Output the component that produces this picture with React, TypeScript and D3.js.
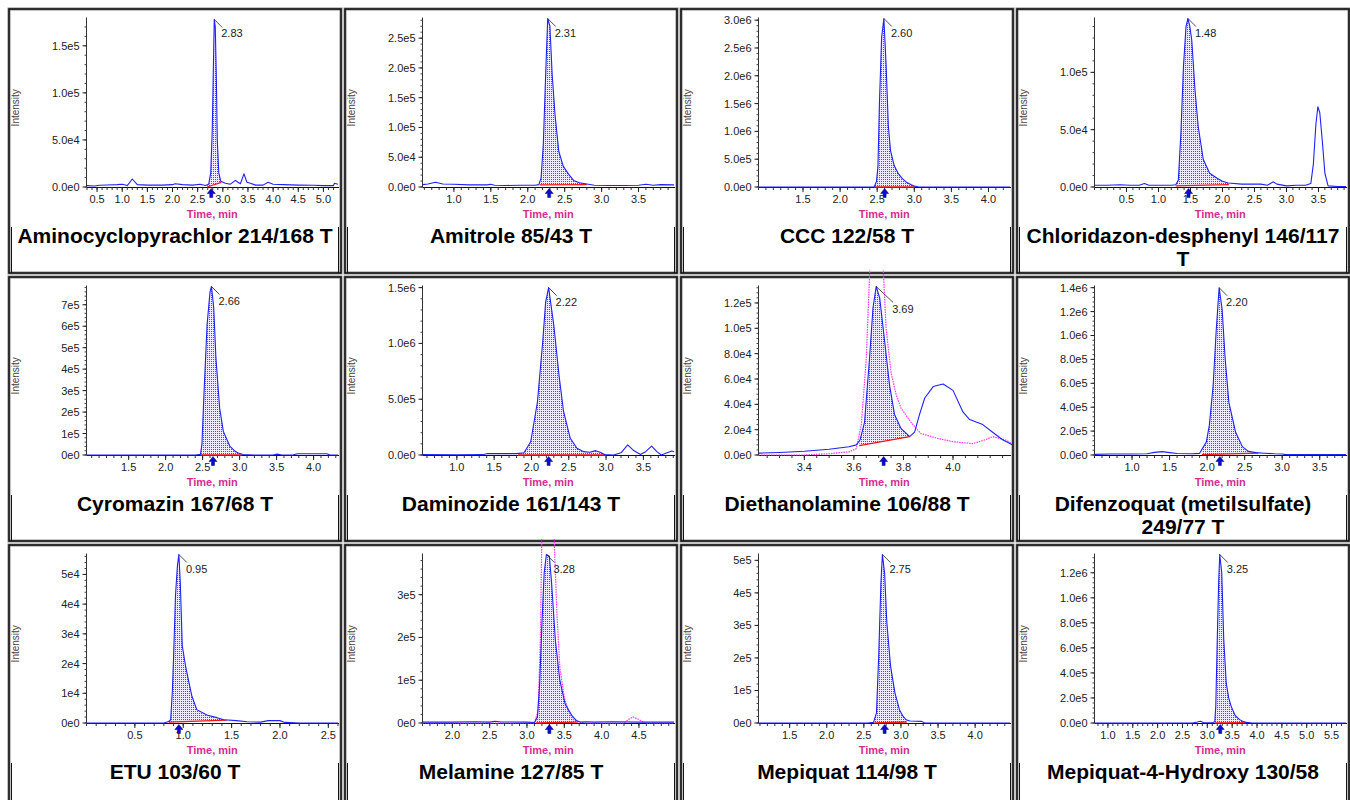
import React from "react";
import * as d3 from "d3";

type Pt = [number, number];

// ---------- DATA ----------
const titles: string[][] = [
  ["Aminocyclopyrachlor 214/168 T"],
  ["Amitrole 85/43 T"],
  ["CCC 122/58 T"],
  ["Chloridazon-desphenyl 146/117", "T"],
  ["Cyromazin 167/68 T"],
  ["Daminozide 161/143 T"],
  ["Diethanolamine 106/88 T"],
  ["Difenzoquat (metilsulfate)", "249/77 T"],
  ["ETU 103/60 T"],
  ["Melamine 127/85 T"],
  ["Mepiquat 114/98 T"],
  ["Mepiquat-4-Hydroxy 130/58"],
];

const rtLabels = ["2.83", "2.31", "2.60", "1.48", "2.66", "2.22", "3.69", "2.20", "0.95", "3.28", "2.75", "3.25"];
const arrowTimes = [2.77, 2.29, 2.6, 1.47, 2.64, 2.23, 3.72, 2.17, 0.955, 3.3, 2.78, 3.26];

const xDomains: Pt[] = [
  [0.29, 5.29], [0.575, 3.98], [0.9, 4.29], [0.0, 3.93],
  [0.93, 4.33], [0.54, 3.91], [3.215, 4.23], [0.5, 3.85],
  [0.0, 2.6], [1.6, 4.97], [1.08, 4.47], [0.73, 5.79],
];
const yMaxes = [1.79e5, 2.83e5, 3.03e6, 1.47e5, 7.85e5, 1.51e6, 1.33e5, 1.41e6, 5.67e4, 3.94e5, 5.18e5, 1.346e6];

const xTicks: number[][] = [
  [0.5, 1.0, 1.5, 2.0, 2.5, 3.0, 3.5, 4.0, 4.5, 5.0],
  [1.0, 1.5, 2.0, 2.5, 3.0, 3.5],
  [1.5, 2.0, 2.5, 3.0, 3.5, 4.0],
  [0.5, 1.0, 1.5, 2.0, 2.5, 3.0, 3.5],
  [1.5, 2.0, 2.5, 3.0, 3.5, 4.0],
  [1.0, 1.5, 2.0, 2.5, 3.0, 3.5],
  [3.4, 3.6, 3.8, 4.0],
  [1.0, 1.5, 2.0, 2.5, 3.0, 3.5],
  [0.5, 1.0, 1.5, 2.0, 2.5],
  [2.0, 2.5, 3.0, 3.5, 4.0, 4.5],
  [1.5, 2.0, 2.5, 3.0, 3.5, 4.0],
  [1.0, 1.5, 2.0, 2.5, 3.0, 3.5, 4.0, 4.5, 5.0, 5.5],
];
const xMinorSteps = [0.1, 0.1, 0.1, 0.1, 0.1, 0.1, 0.05, 0.1, 0.1, 0.1, 0.1, 0.1];

const yTicks: number[][] = [
  [0, 5e4, 1e5, 1.5e5],
  [0, 5e4, 1e5, 1.5e5, 2e5, 2.5e5],
  [0, 5e5, 1e6, 1.5e6, 2e6, 2.5e6, 3e6],
  [0, 5e4, 1e5],
  [0, 1e5, 2e5, 3e5, 4e5, 5e5, 6e5, 7e5],
  [0, 5e5, 1e6, 1.5e6],
  [0, 2e4, 4e4, 6e4, 8e4, 1e5, 1.2e5],
  [0, 2e5, 4e5, 6e5, 8e5, 1e6, 1.2e6, 1.4e6],
  [0, 1e4, 2e4, 3e4, 4e4, 5e4],
  [0, 1e5, 2e5, 3e5],
  [0, 1e5, 2e5, 3e5, 4e5, 5e5],
  [0, 2e5, 4e5, 6e5, 8e5, 1e6, 1.2e6],
];
const yTickLabels: string[][] = [
  ["0.0e0", "5.0e4", "1.0e5", "1.5e5"],
  ["0.0e0", "5.0e4", "1.0e5", "1.5e5", "2.0e5", "2.5e5"],
  ["0.0e0", "5.0e5", "1.0e6", "1.5e6", "2.0e6", "2.5e6", "3.0e6"],
  ["0.0e0", "5.0e4", "1.0e5"],
  ["0e0", "1e5", "2e5", "3e5", "4e5", "5e5", "6e5", "7e5"],
  ["0.0e0", "5.0e5", "1.0e6", "1.5e6"],
  ["0.0e0", "2.0e4", "4.0e4", "6.0e4", "8.0e4", "1.0e5", "1.2e5"],
  ["0.0e0", "2.0e5", "4.0e5", "6.0e5", "8.0e5", "1.0e6", "1.2e6", "1.4e6"],
  ["0e0", "1e4", "2e4", "3e4", "4e4", "5e4"],
  ["0e0", "1e5", "2e5", "3e5"],
  ["0e0", "1e5", "2e5", "3e5", "4e5", "5e5"],
  ["0.0e0", "2.0e5", "4.0e5", "6.0e5", "8.0e5", "1.0e6", "1.2e6"],
];

const traceAminocyclopyrachlor: Pt[] = [
  [0.29, 1500], [0.45, 1000], [0.55, 1800], [0.7, 2200], [0.9, 2500], [1.0, 3000], [1.1, 1500], [1.2, 8500],
  [1.3, 2500], [1.5, 2000], [1.8, 2000], [2.0, 2500], [2.05, 3500], [2.2, 2500], [2.4, 2000], [2.55, 3000],
  [2.65, 1500], [2.72, 3000], [2.76, 15000], [2.79, 60000], [2.81, 120000], [2.83, 178000], [2.85, 170000],
  [2.87, 120000], [2.89, 50000], [2.92, 15000], [2.96, 6000], [3.05, 4000], [3.15, 3000], [3.25, 7000],
  [3.3, 5000], [3.35, 3500], [3.42, 14000], [3.48, 5000], [3.55, 4000], [3.65, 2000], [3.8, 2000], [3.9, 5000],
  [4.0, 3000], [4.2, 2500], [4.5, 2000], [4.8, 1800], [5.0, 1500], [5.2, 1500], [5.22, 4000], [5.29, 3000],
];
const traceAmitrole: Pt[] = [
  [0.575, 4000], [0.65, 5000], [0.75, 8000], [0.85, 5000], [1.0, 4500], [1.2, 3500], [1.45, 3500], [1.5, 4500],
  [1.55, 3000], [1.7, 2500], [1.9, 3000], [2.1, 3000], [2.15, 4000], [2.18, 15000], [2.21, 70000], [2.24, 180000],
  [2.27, 283000], [2.3, 270000], [2.33, 190000], [2.37, 120000], [2.42, 60000], [2.48, 35000], [2.55, 22000],
  [2.62, 11000], [2.7, 7000], [2.8, 5000], [2.9, 3000], [3.1, 2500], [3.3, 2500], [3.5, 3000], [3.6, 4500],
  [3.7, 3000], [3.8, 4000], [3.98, 3500],
];
const traceCCC: Pt[] = [
  [0.9, 0], [2.3, 0], [2.46, 5000], [2.49, 100000], [2.51, 370000], [2.53, 1500000], [2.56, 2700000],
  [2.59, 3030000], [2.62, 2200000], [2.65, 1100000], [2.68, 650000], [2.73, 380000], [2.78, 250000],
  [2.84, 150000], [2.9, 80000], [2.96, 40000], [3.0, 15000], [3.05, 5000], [3.2, 0], [4.29, 0],
];
const traceChloridazon: Pt[] = [
  [0, 1500], [0.2, 1500], [0.4, 2000], [0.55, 1500], [0.7, 1500], [0.78, 3000], [0.85, 1500], [1.0, 1500],
  [1.2, 1500], [1.27, 2000], [1.31, 6000], [1.35, 47000], [1.39, 105000], [1.43, 140000], [1.46, 147000],
  [1.49, 140000], [1.52, 128000], [1.57, 85000], [1.62, 53000], [1.7, 24000], [1.8, 12000], [1.91, 7800],
  [2.0, 5000], [2.09, 3500], [2.3, 2500], [2.6, 2500], [2.7, 1500], [2.75, 3000], [2.79, 4500], [2.85, 2500],
  [3.0, 1000], [3.15, 1500], [3.3, 1500], [3.38, 3000], [3.42, 20000], [3.46, 55000], [3.49, 70000],
  [3.52, 65000], [3.56, 40000], [3.6, 12000], [3.65, 1000], [3.8, 500], [3.93, 500],
];
const traceCyromazin: Pt[] = [
  [0.93, 0], [2.4, 0], [2.47, 3000], [2.49, 48000], [2.52, 300000], [2.56, 607000], [2.6, 760000],
  [2.62, 785000], [2.65, 685000], [2.68, 450000], [2.73, 219000], [2.78, 110000], [2.87, 40000],
  [2.93, 20000], [2.98, 9000], [3.05, 2000], [3.2, 0], [3.45, 0], [3.51, 4000], [3.57, 0], [3.72, 0],
  [3.78, 6000], [4.0, 6000], [4.18, 6000], [4.22, 0], [4.33, 0],
];
const traceDaminozide: Pt[] = [
  [0.54, 3000], [1.0, 2000], [1.35, 3000], [1.4, 12000], [1.8, 12000], [1.9, 20000], [1.99, 119000],
  [2.08, 475000], [2.15, 1010000], [2.19, 1370000], [2.23, 1500000], [2.3, 1160000], [2.37, 710000],
  [2.43, 390000], [2.52, 150000], [2.61, 60000], [2.7, 30000], [2.78, 25000], [2.86, 39000], [2.92, 25000],
  [2.98, 5000], [3.1, 0], [3.2, 20000], [3.29, 90000], [3.37, 40000], [3.46, 5000], [3.53, 30000],
  [3.61, 80000], [3.68, 30000], [3.74, 0], [3.8, 15000], [3.88, 36000], [3.91, 30000],
];
const traceDiethanolamine: Pt[] = [
  [3.215, 1500], [3.3, 2000], [3.4, 3000], [3.5, 4500], [3.58, 6500], [3.61, 8000], [3.625, 12000],
  [3.643, 26000], [3.663, 76000], [3.677, 116000], [3.69, 133000], [3.704, 124000], [3.724, 90000],
  [3.744, 55000], [3.764, 32000], [3.79, 21000], [3.825, 14500], [3.845, 18000], [3.865, 32000],
  [3.886, 45000], [3.92, 54000], [3.96, 56000], [4.0, 51000], [4.04, 34000], [4.067, 28000], [4.12, 24000],
  [4.16, 18000], [4.2, 12000], [4.24, 8000],
];
const traceDifenzoquat: Pt[] = [
  [0.5, 5000], [0.7, 8000], [1.0, 8000], [1.2, 10000], [1.3, 22000], [1.4, 28000], [1.5, 20000], [1.6, 12000],
  [1.8, 10000], [1.9, 14000], [1.99, 110000], [2.03, 250000], [2.08, 580000], [2.12, 1030000], [2.16, 1400000],
  [2.2, 1220000], [2.24, 810000], [2.29, 440000], [2.38, 190000], [2.47, 70000], [2.55, 30000], [2.65, 20000],
  [2.76, 15000], [2.9, 10000], [3.0, 8000], [3.05, 3000], [3.3, 3000], [3.6, 3000], [3.85, 3000],
];
const traceETU: Pt[] = [
  [0, 0], [0.8, 0], [0.85, 500], [0.87, 1100], [0.888, 11000], [0.9, 22000], [0.92, 43000], [0.94, 53000],
  [0.955, 56700], [0.97, 47000], [0.99, 26000], [1.025, 19000], [1.06, 13500], [1.09, 9000], [1.14, 4500],
  [1.25, 2600], [1.35, 1800], [1.42, 1100], [1.55, 800], [1.66, 400], [1.8, 300], [1.88, 800], [2.0, 800],
  [2.05, 200], [2.2, 0], [2.6, 0],
];
const traceMelamine: Pt[] = [
  [1.6, 2000], [2.0, 2000], [2.3, 3000], [2.5, 2000], [2.57, 4000], [2.65, 2500], [2.75, 2500], [3.0, 2000],
  [3.1, 1000], [3.14, 14000], [3.17, 92000], [3.2, 230000], [3.23, 350000], [3.26, 394000], [3.3, 390000],
  [3.33, 327000], [3.38, 194000], [3.44, 100000], [3.51, 45000], [3.56, 30000], [3.6, 18000], [3.66, 6000],
  [3.72, 2000], [3.8, 3000], [3.9, 2000], [4.15, 3000], [4.5, 2000], [4.97, 2000],
];
const traceMepiquat: Pt[] = [
  [1.08, 0], [2.55, 0], [2.63, 2000], [2.67, 31000], [2.7, 205000], [2.73, 430000], [2.75, 518000],
  [2.78, 460000], [2.81, 308000], [2.86, 175000], [2.92, 92000], [2.98, 41000], [3.03, 20000], [3.07, 10000],
  [3.12, 6000], [3.28, 5000], [3.32, 0], [4.47, 0],
];
const traceMepiquatHydroxy: Pt[] = [
  [0.73, 0], [2.7, 0], [2.8, 8000], [2.86, 14000], [2.92, 3000], [3.1, 2000], [3.15, 10000], [3.17, 133000],
  [3.2, 670000], [3.23, 1150000], [3.25, 1346000], [3.29, 1200000], [3.33, 670000], [3.38, 320000],
  [3.43, 200000], [3.48, 133000], [3.56, 60000], [3.65, 27000], [3.72, 12000], [3.79, 5000], [3.9, 0], [5.79, 0],
];

// second (dotted, magenta) trace
const refDiethanolamine: Pt[] = [
  [3.215, 0], [3.4, 0], [3.5, 1000], [3.58, 2500], [3.61, 5000], [3.63, 24000], [3.65, 76000], [3.665, 150000],
  [3.69, 300000], [3.715, 160000], [3.73, 100000], [3.75, 65000], [3.77, 48000], [3.79, 37000], [3.83, 26000],
  [3.87, 17000], [3.94, 13000], [4.0, 10500], [4.08, 9000], [4.13, 12000], [4.16, 14500], [4.21, 12000], [4.24, 9000],
];
const refMelamine: Pt[] = [
  [1.6, 0], [3.1, 0], [3.15, 30000], [3.18, 200000], [3.2, 450000], [3.28, 700000], [3.36, 450000],
  [3.4, 260000], [3.44, 130000], [3.5, 60000], [3.56, 25000], [3.62, 8000], [3.7, 2000], [3.8, 0], [4.3, 0],
  [4.36, 8000], [4.42, 14000], [4.48, 10000], [4.55, 3000], [4.6, 0], [4.97, 0],
];

const traces: Pt[][] = [
  traceAminocyclopyrachlor, traceAmitrole, traceCCC, traceChloridazon,
  traceCyromazin, traceDaminozide, traceDiethanolamine, traceDifenzoquat,
  traceETU, traceMelamine, traceMepiquat, traceMepiquatHydroxy,
];
const refTraces: (Pt[] | null)[] = [null, null, null, null, null, null, refDiethanolamine, null, null, refMelamine, null, null];

// integration window: [tStart, baseStart, tEnd, baseEnd]
const integrations: [number, number, number, number][] = [
  [2.69, 0, 2.97, 5000],
  [2.16, 3500, 2.8, 4000],
  [2.46, 0, 3.0, 0],
  [1.27, 1000, 2.1, 2000],
  [2.47, 0, 3.03, 0],
  [1.82, 0, 3.0, 0],
  [3.622, 7400, 3.825, 14500],
  [1.93, 3000, 2.68, 15000],
  [0.85, 300, 1.45, 1000],
  [3.12, 0, 3.68, 2000],
  [2.64, 0, 3.08, 3000],
  [3.15, 0, 3.78, 2000],
];

// ---------- LAYOUT ----------
const COL_X = [9, 345, 681, 1017];
const ROW_Y = [9, 277, 545];
const CELL_W = 332;
const CELL_H = 264;
const PLOT_L = 77.5;
const PLOT_R = 329;
const PLOT_T = 9.5;
const PLOT_B = 178;
const FONT = "'Liberation Sans', Arial, sans-serif";
const labelOffsets: Pt[] = [[8, 8], [8, 8], [8, 8], [8, 8], [8, 8], [8, 8], [17, 16], [8, 8], [8, 8], [8, 8], [8, 8], [8, 8]];

function interpAt(tr: Pt[], t: number): number {
  for (let i = 0; i < tr.length - 1; i++) {
    const [a, ya] = tr[i];
    const [b, yb] = tr[i + 1];
    if (t >= a && t <= b) return ya + ((yb - ya) * (t - a)) / (b - a);
  }
  return 0;
}

function Panel({ idx }: { idx: number }) {
  const col = idx % 4;
  const row = Math.floor(idx / 4);
  const ox = COL_X[col];
  const oy = ROW_Y[row];
  const x = d3.scaleLinear().domain(xDomains[idx]).range([PLOT_L, PLOT_R]);
  const y = d3.scaleLinear().domain([0, yMaxes[idx]]).range([PLOT_B, PLOT_T]);
  const tr = traces[idx];
  const ref = refTraces[idx];
  const line = d3.line<Pt>().x((d) => x(d[0])).y((d) => y(d[1]));

  const [ts, bs, te, be] = integrations[idx];
  const base = (t: number) => bs + ((be - bs) * (t - ts)) / (te - ts);
  const fillPts: Pt[] = [[ts, interpAt(tr, ts)], ...tr.filter((p) => p[0] > ts && p[0] < te), [te, interpAt(tr, te)]];
  const area = d3.area<Pt>().x((d) => x(d[0])).y0((d) => y(base(d[0]))).y1((d) => y(Math.max(d[1], base(d[0]))));

  let apex = tr[0];
  tr.forEach((p) => { if (p[1] > apex[1]) apex = p; });
  const ax = x(apex[0]);
  const ay = y(apex[1]);
  const [ldx, ldy] = labelOffsets[idx];

  const [d0, d1] = xDomains[idx];
  const mstep = xMinorSteps[idx];
  const xMinor: number[] = [];
  for (let v = Math.ceil(d0 / mstep - 1e-6) * mstep; v <= d1 + 1e-9; v += mstep) xMinor.push(v);
  const yt = yTicks[idx];
  const ystep = (yt[1] - yt[0]) / 5;
  const yMinor: number[] = [];
  for (let v = 0; v <= yMaxes[idx] + 1e-6; v += ystep) yMinor.push(v);

  const arrX = x(arrowTimes[idx]);
  const b = PLOT_B;
  const arrowPath = `M${arrX},${b + 1.5} L${arrX + 4},${b + 6.5} L${arrX + 1.5},${b + 6.5} L${arrX + 1.5},${b + 10.5} L${arrX - 1.5},${b + 10.5} L${arrX - 1.5},${b + 6.5} L${arrX - 4},${b + 6.5} Z`;

  const clipId = `clip${idx}`;
  const plotCx = (PLOT_L + PLOT_R) / 2;

  return (
    <g transform={`translate(${ox},${oy})`}>
      <defs>
        <clipPath id={clipId}>
          <rect x={PLOT_L} y={-7} width={PLOT_R - PLOT_L + 2} height={PLOT_B + 8} />
        </clipPath>
      </defs>
      <rect x={0} y={0} width={CELL_W} height={CELL_H} fill="#fff" stroke="#8a8a8a" strokeWidth={3} />
      <rect x={0} y={0} width={CELL_W} height={CELL_H} fill="none" stroke="#111" strokeWidth={1.5} />
      <line x1={2.5} x2={2.5} y1={218} y2={CELL_H} stroke="#111" strokeWidth={1} />
      <line x1={CELL_W - 2.5} x2={CELL_W - 2.5} y1={218} y2={CELL_H} stroke="#111" strokeWidth={1} />

      <line x1={PLOT_L} x2={PLOT_L} y1={PLOT_T - 1} y2={PLOT_B} stroke="#333" strokeWidth={1} />
      <line x1={PLOT_L} x2={PLOT_R + 1} y1={PLOT_B + 0.5} y2={PLOT_B + 0.5} stroke="#111" strokeWidth={1} />
      {xMinor.map((v, i) => (
        <line key={`xm${i}`} x1={x(v)} x2={x(v)} y1={PLOT_B + 0.5} y2={PLOT_B + 3} stroke="#333" strokeWidth={1} />
      ))}
      {xTicks[idx].map((v, i) => (
        <g key={`xt${i}`}>
          <line x1={x(v)} x2={x(v)} y1={PLOT_B + 0.5} y2={PLOT_B + 5} stroke="#222" strokeWidth={1} />
          <text x={x(v)} y={PLOT_B + 16} textAnchor="middle" fontSize={11} fontFamily={FONT} fill="#222">
            {v.toFixed(1)}
          </text>
        </g>
      ))}
      {yMinor.map((v, i) => (
        <line key={`ym${i}`} x1={PLOT_L - 2} x2={PLOT_L} y1={y(v)} y2={y(v)} stroke="#444" strokeWidth={1} />
      ))}
      {yt.map((v, i) => (
        <g key={`yt${i}`}>
          <line x1={PLOT_L - 4} x2={PLOT_L} y1={y(v)} y2={y(v)} stroke="#222" strokeWidth={1} />
          <text x={PLOT_L - 7} y={y(v) + 4} textAnchor="end" fontSize={11} fontFamily={FONT} fill="#222">
            {yTickLabels[idx][i]}
          </text>
        </g>
      ))}
      <text
        transform={`translate(10,${(PLOT_T + PLOT_B) / 2 + 5}) rotate(-90)`}
        textAnchor="middle"
        fontSize={10}
        fontFamily={FONT}
        fill="#4a4040"
      >
        Intensity
      </text>
      <text x={plotCx} y={PLOT_B + 31} textAnchor="middle" fontSize={11} fontWeight="bold" fontFamily={FONT} fill="#d0308f">
        Time, min
      </text>

      <g clipPath={`url(#${clipId})`}>
        <path d={area(fillPts) || ""} fill="url(#dotfill)" stroke="none" />
        {ref && <path d={line(ref) || ""} fill="none" stroke="#ff33ff" strokeWidth={1.2} strokeDasharray="1.5,1" />}
        <line x1={x(ts)} x2={x(te)} y1={y(bs)} y2={y(be)} stroke="#ff1010" strokeWidth={1.3} />
        <path d={line(tr) || ""} fill="none" stroke="#2020ff" strokeWidth={1.1} strokeLinejoin="round" />
      </g>

      <line x1={ax} y1={ay} x2={ax + ldx} y2={ay + ldy} stroke="#222" strokeWidth={0.8} />
      <text x={ax + ldx - 1} y={ay + ldy + 10} fontSize={11} fontFamily={FONT} fill="#222">
        {rtLabels[idx]}
      </text>
      <path d={arrowPath} fill="#0a0ad0" stroke="#000060" strokeWidth={0.5} />

      {titles[idx].map((t, i) => (
        <text key={`t${i}`} x={CELL_W / 2} y={234 + i * 23} textAnchor="middle" fontSize={21} fontWeight="bold" fontFamily={FONT} fill="#000">
          {t}
        </text>
      ))}
    </g>
  );
}

export default function App() {
  return (
    <svg width={1350} height={800} style={{ position: "absolute", left: 0, top: 0, background: "#fff" }}>
      <defs>
        <pattern id="dotfill" width={2} height={2} patternUnits="userSpaceOnUse">
          <rect width={2} height={2} fill="#ebebfc" />
          <rect x={0} y={0} width={1} height={1} fill="#4848e8" />
        </pattern>
      </defs>
      <rect x={0} y={0} width={1350} height={800} fill="#fff" />
      {titles.map((_, i) => (
        <Panel key={i} idx={i} />
      ))}
    </svg>
  );
}
